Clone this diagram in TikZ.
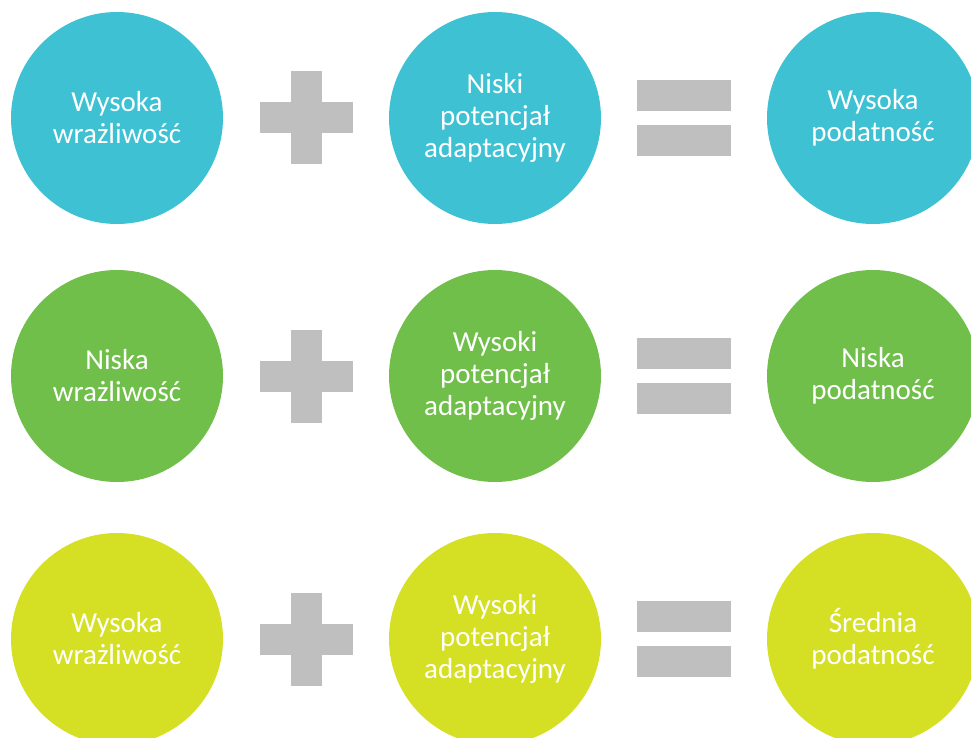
\documentclass[tikz,border=0pt]{standalone}
\usepackage{fontspec}
\setmainfont{Carlito}
\usetikzlibrary{positioning}

\definecolor{teal1}{RGB}{62,193,211}
\definecolor{green1}{RGB}{112,191,74}
\definecolor{lime1}{RGB}{213,223,35}
\definecolor{sign}{RGB}{191,191,191}

\begin{document}
\begin{tikzpicture}[x=1pt, y=-1pt,
    font=\fontsize{29}{32}\selectfont,
    bubble/.style={circle, minimum size=212pt, inner sep=0pt, outer sep=0pt, text=white, align=center},
    hbar/.style={fill=sign, minimum width=93pt, minimum height=31pt, inner sep=0pt, outer sep=0pt},
    vbar/.style={fill=sign, minimum width=31pt, minimum height=93pt, inner sep=0pt, outer sep=0pt},
    eqbox/.style={minimum width=94pt, minimum height=76pt, inner sep=0pt, outer sep=0pt},
    ]
    \useasboundingbox (0,0) rectangle (971,738);

    % Row 1
    \node[bubble, fill=teal1] at (117,118) (a1) {Wysoka\\wrażliwość};
    \node[hbar, right=37pt of a1] (plus1) {};
    \node[vbar] at (plus1.center) {};
    \node[bubble, fill=teal1, right=36pt of plus1] (b1) {Niski\\potencjał\\adaptacyjny};
    \node[eqbox, right=36pt of b1] (eq1) {};
    \node[hbar, minimum width=94pt, below] at (eq1.north) {};
    \node[hbar, minimum width=94pt, above] at (eq1.south) {};
    \node[bubble, fill=teal1, right=36pt of eq1] (c1) {Wysoka\\podatność};

    % Row 2
    \node[bubble, fill=green1] at (117,376) (a2) {Niska\\wrażliwość};
    \node[hbar, right=37pt of a2] (plus2) {};
    \node[vbar] at (plus2.center) {};
    \node[bubble, fill=green1, right=36pt of plus2] (b2) {Wysoki\\potencjał\\adaptacyjny};
    \node[eqbox, right=36pt of b2] (eq2) {};
    \node[hbar, minimum width=94pt, below] at (eq2.north) {};
    \node[hbar, minimum width=94pt, above] at (eq2.south) {};
    \node[bubble, fill=green1, right=36pt of eq2] (c2) {Niska\\podatność};

    % Row 3
    \node[bubble, fill=lime1] at (117,639) (a3) {Wysoka\\wrażliwość};
    \node[hbar, right=37pt of a3] (plus3) {};
    \node[vbar] at (plus3.center) {};
    \node[bubble, fill=lime1, right=36pt of plus3] (b3) {Wysoki\\potencjał\\adaptacyjny};
    \node[eqbox, right=36pt of b3] (eq3) {};
    \node[hbar, minimum width=94pt, below] at (eq3.north) {};
    \node[hbar, minimum width=94pt, above] at (eq3.south) {};
    \node[bubble, fill=lime1, right=36pt of eq3] (c3) {Średnia\\podatność};
\end{tikzpicture}
\end{document}
